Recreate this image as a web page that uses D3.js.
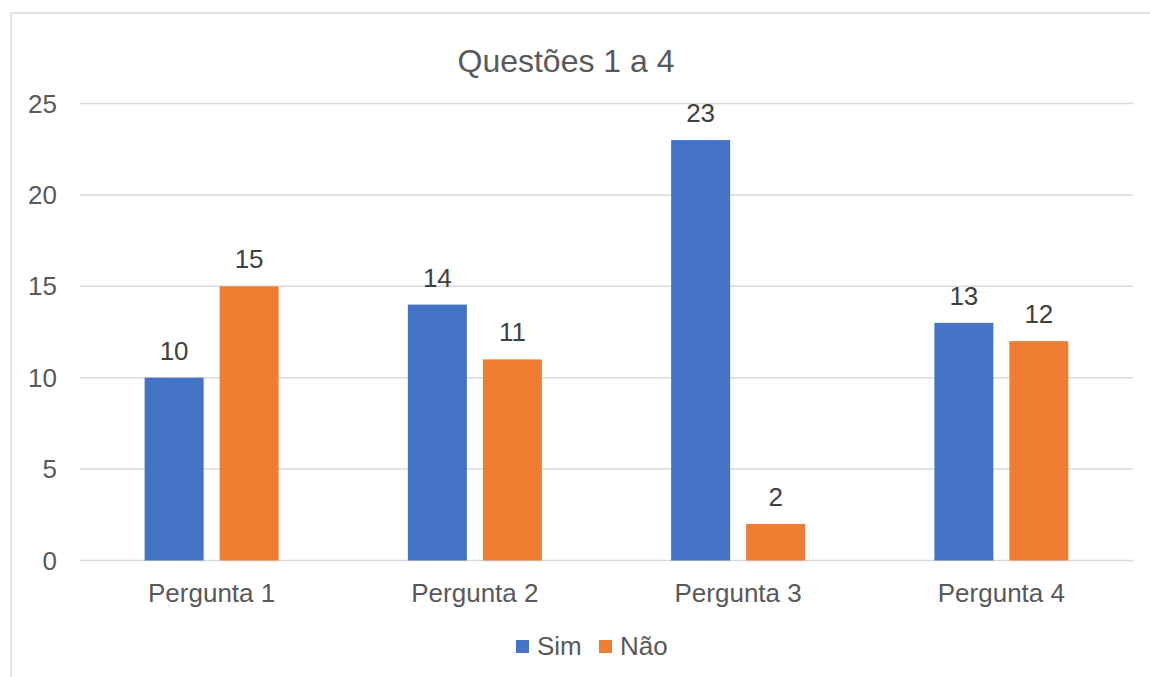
<!DOCTYPE html>
<html>
<head>
<meta charset="utf-8">
<script src="https://d3js.org/d3.v7.min.js"></script>
<style>
  body { margin: 0; background: #fff; }
  text { font-family: "Liberation Sans", Arial, sans-serif; }
</style>
</head>
<body>
<div id="chart"></div>
<script>
var categories = ["Pergunta 1", "Pergunta 2", "Pergunta 3", "Pergunta 4"];
var seriesNames = ["Sim", "Não"];
var sim = [10, 14, 23, 13];
var nao = [15, 11, 2, 12];
var yTicks = [0, 5, 10, 15, 20, 25];
var colors = ["#4472c4", "#ed7d31"];

var width = 1150;
var height = 677;

var svg = d3.select("#chart")
  .append("svg")
  .attr("width", width)
  .attr("height", height);

// chart frame
svg.append("rect")
  .attr("x", 11).attr("y", 13)
  .attr("width", width + 10).attr("height", height + 10)
  .attr("fill", "#fff")
  .attr("stroke", "#d9d9d9")
  .attr("stroke-width", 1.5);

var x = d3.scaleBand()
  .domain(categories)
  .range([80, 1133]);

var y = d3.scaleLinear()
  .domain([0, 25])
  .range([560.5, 103.5]);

// gridlines
svg.append("g")
  .selectAll("line")
  .data(yTicks)
  .enter().append("line")
  .attr("x1", 80).attr("x2", 1133)
  .attr("y1", function (d) { return y(d); })
  .attr("y2", function (d) { return y(d); })
  .attr("stroke", "#d9d9d9")
  .attr("stroke-width", 1.5);

// y labels
svg.append("g")
  .selectAll("text")
  .data(yTicks)
  .enter().append("text")
  .attr("x", 57)
  .attr("y", function (d) { return y(d) + 9; })
  .attr("text-anchor", "end")
  .attr("font-size", 26)
  .attr("fill", "#595959")
  .text(function (d) { return d; });

var barW = 59, gap = 16;
var series = [sim, nao];

series.forEach(function (vals, s) {
  var g = svg.append("g");
  var xOff = function (i) {
    var c = x(categories[i]) + x.bandwidth() / 2;
    return s === 0 ? c - gap / 2 - barW : c + gap / 2;
  };
  g.selectAll("rect")
    .data(vals)
    .enter().append("rect")
    .attr("x", function (d, i) { return xOff(i); })
    .attr("y", function (d) { return y(d); })
    .attr("width", barW)
    .attr("height", function (d) { return y(0) - y(d); })
    .attr("fill", colors[s]);
  g.selectAll("text")
    .data(vals)
    .enter().append("text")
    .attr("x", function (d, i) { return xOff(i) + barW / 2; })
    .attr("y", function (d) { return y(d) - 18; })
    .attr("text-anchor", "middle")
    .attr("font-size", 26)
    .attr("fill", "#404040")
    .text(function (d) { return d; });
});

// category labels
svg.append("g")
  .selectAll("text")
  .data(categories)
  .enter().append("text")
  .attr("x", function (d) { return x(d) + x.bandwidth() / 2; })
  .attr("y", 602)
  .attr("text-anchor", "middle")
  .attr("font-size", 26)
  .attr("fill", "#595959")
  .text(function (d) { return d; });

// title
svg.append("text")
  .attr("x", 566)
  .attr("y", 72)
  .attr("text-anchor", "middle")
  .attr("font-size", 32)
  .attr("fill", "#595959")
  .text("Questões 1 a 4");

// legend
var legendX = [516, 599];
var legend = svg.append("g")
  .selectAll("g")
  .data(seriesNames)
  .enter().append("g")
  .attr("transform", function (d, i) { return "translate(" + legendX[i] + ",640)"; });
legend.append("rect")
  .attr("width", 13).attr("height", 13)
  .attr("fill", function (d, i) { return colors[i]; });
legend.append("text")
  .attr("x", 21)
  .attr("y", 15)
  .attr("font-size", 26)
  .attr("fill", "#595959")
  .text(function (d) { return d; });
</script>
</body>
</html>
